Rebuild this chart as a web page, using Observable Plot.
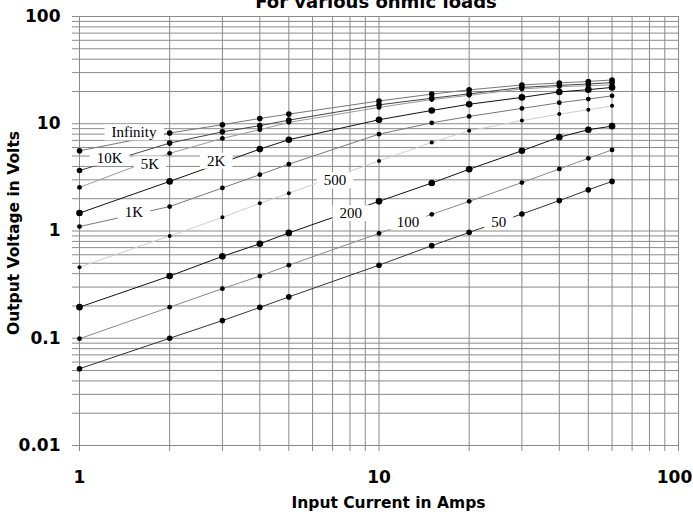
<!DOCTYPE html>
<html>
<head>
<meta charset="utf-8">
<script src="https://cdn.jsdelivr.net/npm/d3@7"></script>
<script src="https://cdn.jsdelivr.net/npm/@observablehq/plot@0.6"></script>
<style>
  html, body { margin: 0; padding: 0; background: #fff; }
  #chart svg { display: block; }
</style>
</head>
<body>
<div id="chart"></div>
<script>
// ---- data ----
const currents = [1, 2, 3, 4, 5, 10, 15, 20, 30, 40, 50, 60];
const loads = ["Infinity", "10K", "5K", "2K", "1K", "500", "200", "100", "50"];
const voltsInfinity = [5.6, 8.2, 9.8, 11.2, 12.3, 16.3, 18.9, 20.7, 23.0, 24.0, 24.8, 25.6];
const volts10K      = [3.66, 6.6, 8.4, 9.6, 10.8, 15.0, 17.3, 19.0, 21.8, 22.8, 23.5, 24.2];
const volts5K       = [2.55, 5.3, 7.3, 8.8, 10.3, 14.2, 16.8, 18.4, 21.1, 22.2, 22.6, 23.1];
const volts2K       = [1.47, 2.9, 4.35, 5.8, 7.1, 10.9, 13.3, 15.2, 17.6, 19.8, 20.8, 21.8];
const volts1K       = [1.1, 1.69, 2.52, 3.35, 4.2, 8.0, 10.2, 11.7, 13.9, 15.7, 17.0, 18.2];
const volts500      = [0.46, 0.9, 1.34, 1.81, 2.25, 4.5, 6.7, 8.6, 10.7, 12.3, 13.5, 14.7];
const volts200      = [0.195, 0.38, 0.58, 0.76, 0.96, 1.89, 2.8, 3.76, 5.6, 7.5, 8.8, 9.5];
const volts100      = [0.099, 0.195, 0.29, 0.38, 0.48, 0.95, 1.43, 1.89, 2.83, 3.79, 4.76, 5.7];
const volts50       = [0.052, 0.1, 0.146, 0.194, 0.243, 0.48, 0.73, 0.97, 1.44, 1.92, 2.42, 2.9];
// where each series name is written (in amps / volts)
const labelCurrent = [1.52, 1.26, 1.72, 2.86, 1.52, 7.13, 8.05, 12.5, 25.1];
const labelVolts   = [8.28, 4.80, 4.17, 4.50, 1.49, 2.96, 1.46, 1.22, 1.22];
// axes
const xGridValues = [1, 2, 3, 4, 5, 6, 7, 8, 9, 10, 20, 30, 40, 50, 60, 70, 80, 90, 100];
const xTickLabels = [1, 10, 100];
const yDecades = [0.01, 0.1, 1, 10];
const yTickValues = [0.01, 0.1, 1, 10, 100];
const yTickLabels = ["0.01", "0.1", "1", "10", "100"];
const titleText = "For various ohmic loads";
const xTitle = "Input Current in Amps";
const yTitle = "Output Voltage in Volts";

// ---- styles ----
const lineColors = ["#777777", "#444444", "#9a9a9a", "#111111", "#777777", "#cfcfcf", "#111111", "#888888", "#333333"];
const dotRadius  = [2.8, 2.8, 2.4, 3.3, 2.4, 2.0, 3.3, 2.4, 2.8];
const gridColor = "#8a8a8a";
const tickFont = {fontSize: 17, fontWeight: "bold", fontFamily: "DejaVu Sans", fill: "black"};
const titleFont = {fontFamily: "DejaVu Sans", fontWeight: "bold", fill: "black"};

const seriesVolts = [voltsInfinity, volts10K, volts5K, volts2K, volts1K, volts500, volts200, volts100, volts50];
const yGridValues = yDecades.flatMap(d => [1,2,3,4,5,6,7,8,9].map(m => Number((m * d).toPrecision(3)))).concat([100]);
const near = (a, b) => Math.abs(a - b) < 1e-9 * Math.max(1, Math.abs(b));

const rows = loads.flatMap((name, i) => currents.map((c, j) => ({load: name, current: c, volts: seriesVolts[i][j]})));
const labelRows = loads.map((name, i) => ({load: name, current: labelCurrent[i], volts: labelVolts[i]}));

const lastX = xTickLabels[xTickLabels.length - 1];
const marks = [
  Plot.ruleX(xGridValues, {stroke: gridColor, strokeWidth: 1}),
  Plot.ruleY(yGridValues, {stroke: gridColor, strokeWidth: 1}),
  // x ticks (marks only)
  Plot.axisX({ticks: xGridValues, tickSize: 6, stroke: gridColor, tickFormat: () => "", label: null}),
  // x tick labels
  Plot.axisX({ticks: xTickLabels.slice(0, -1), tickSize: 0, tickPadding: 25, tickFormat: d => String(d), label: null, ...tickFont}),
  Plot.axisX({ticks: [lastX], tickSize: 0, tickPadding: 25, dx: -4, tickFormat: d => String(d), label: null, ...tickFont}),
  Plot.axisY({
    ticks: yGridValues, tickSize: 7, tickPadding: 12, stroke: gridColor,
    tickFormat: d => { const k = yTickValues.findIndex(v => near(v, d)); return k >= 0 ? yTickLabels[k] : ""; },
    label: null, ...tickFont
  })
];
loads.forEach((name, i) => {
  const data = rows.filter(r => r.load === name);
  marks.push(Plot.line(data, {x: "current", y: "volts", stroke: lineColors[i], strokeWidth: 1}));
});
loads.forEach((name, i) => {
  const data = rows.filter(r => r.load === name);
  marks.push(Plot.dot(data, {x: "current", y: "volts", r: dotRadius[i], fill: "black", stroke: "none"}));
});
marks.push(Plot.text(labelRows, {
  x: "current", y: "volts", text: "load",
  fontFamily: "Liberation Serif", fontSize: 15, fill: "black",
  ariaDescription: "load-labels"
}));
marks.push(Plot.text([xTitle], {frameAnchor: "bottom", lineAnchor: "middle", textAnchor: "middle", dx: 9.5, dy: 58, fontSize: 15.5, ...titleFont}));
marks.push(Plot.text([yTitle], {frameAnchor: "left", lineAnchor: "middle", textAnchor: "middle", rotate: -90, dx: -65, dy: 2, fontSize: 15.5, ...titleFont}));
marks.push(Plot.text([titleText], {frameAnchor: "top", lineAnchor: "middle", textAnchor: "middle", dx: -3, dy: -14, fontSize: 18, ...titleFont}));

const chart = Plot.plot({
  width: 693, height: 514,
  marginLeft: 79, marginRight: 15, marginTop: 16, marginBottom: 69,
  style: {background: "white", fontFamily: "DejaVu Sans"},
  x: {type: "log", domain: [1, 100]},
  y: {type: "log", domain: [0.01, 100]},
  marks
});
document.getElementById("chart").append(chart);

// white boxes behind the series names
const NS = "http://www.w3.org/2000/svg";
chart.querySelectorAll('g[aria-description="load-labels"] text').forEach(t => {
  const b = t.getBBox();
  const r = document.createElementNS(NS, "rect");
  r.setAttribute("x", b.x - 7);
  r.setAttribute("y", b.y);
  r.setAttribute("width", b.width + 14);
  r.setAttribute("height", b.height);
  r.setAttribute("fill", "white");
  const tr = t.getAttribute("transform");
  if (tr) r.setAttribute("transform", tr);
  t.parentNode.insertBefore(r, t);
});
</script>
</body>
</html>
